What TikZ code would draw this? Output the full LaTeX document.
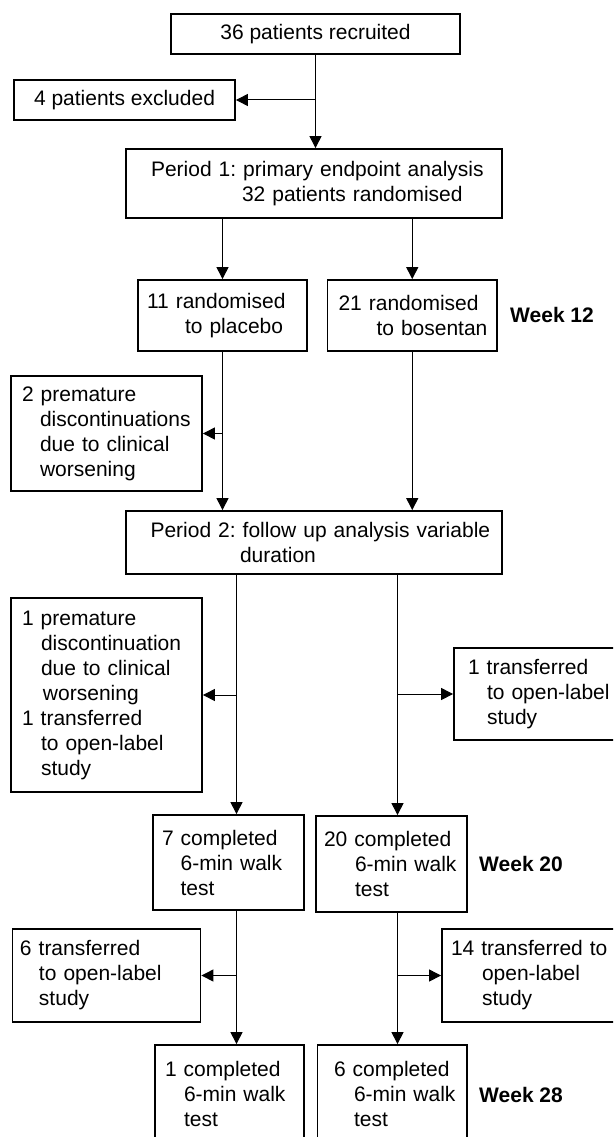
\documentclass[tikz,border=0pt]{standalone}
\usepackage{fontspec}
\setmainfont{Liberation Sans}
\usetikzlibrary{arrows.meta}
\frenchspacing
\newcommand\fsz{\fontsize{21pt}{25pt}\selectfont\frenchspacing}
\newcommand\ind[1]{\hspace*{#1pt}}
\tikzset{
  box/.style={draw, line width=1.8pt, inner sep=0pt, font=\fsz},
  cbox/.style={box, align=center},
  lbox/.style={box, align=left},
  arr/.style={line width=1pt, -{Triangle[length=12pt,width=12pt]}},
  wk/.style={font=\fsz\bfseries, anchor=west, inner sep=0pt}
}
\begin{document}
\begin{tikzpicture}[x=1pt,y=-1pt]
\useasboundingbox (0,0) rectangle (613,1137);
\clip (0,0) rectangle (613,1137);

\node[cbox, minimum width=289pt, minimum height=40pt] (A) at (315.5,34) {36 patients recruited};
\node[cbox, minimum width=221pt, minimum height=40pt] (B) at (124.5,100) {4 patients excluded};
\node[lbox, text width=376pt, minimum height=69pt] (C) at (314,183.5)
  {\ind{25}Period 1: primary endpoint analysis\\\ind{116}32 patients randomised};
\node[lbox, text width=169pt, minimum height=71pt] (D) at (222.5,315.5)
  {\ind{9}11 randomised\\\ind{47}to placebo};
\node[lbox, text width=169.5pt, minimum height=71pt] (E) at (412.25,315.5)
  {\ind{11}21 randomised\\\ind{49}to bosentan};
\node[wk] (W12) at (510,315) {Week 12};
\node[lbox, text width=191pt, minimum height=115pt] (F) at (106.5,433.5)
  {\ind{11}2 premature\\\ind{29}discontinuations\\\ind{29}due to clinical\\\ind{29}worsening};
\node[lbox, text width=376pt, minimum height=63pt] (G) at (314,542.5)
  {\ind{24.5}Period 2: follow up analysis variable\\\ind{114}duration};
\node[lbox, text width=191pt, minimum height=194pt] (H) at (106.5,695)
  {\ind{11}1 premature\\\ind{30}discontinuation\\\ind{30}due to clinical\\\ind{32}worsening\\\ind{11}1 transferred\\\ind{30}to open-label\\\ind{30}study};
\node[lbox, text width=161pt, minimum height=92pt] (I) at (534.5,694)
  {\ind{14}1 transferred\\\ind{33}to open-label\\\ind{33}study};
\node[lbox, text width=151pt, minimum height=95pt] (J) at (228.5,862.5)
  {\ind{9}7 completed\\\ind{27.6}6-min walk\\\ind{27.6}test};
\node[lbox, text width=151pt, minimum height=96pt] (K) at (391.5,864)
  {\ind{8}20 completed\\\ind{39}6-min walk\\\ind{39}test};
\node[wk] (W20) at (479,864) {Week 20};
\node[lbox, text width=188pt, minimum height=93pt] (L) at (106.5,975.5)
  {\ind{7.5}6 transferred\\\ind{26.5}to open-label\\\ind{26.5}study};
\node[lbox, text width=173pt, minimum height=93pt] (M) at (528.5,975.5)
  {\ind{9}14 transferred to\\\ind{40}open-label\\\ind{40}study};
\node[lbox, text width=149pt, minimum height=98pt] (N) at (229.5,1094)
  {\ind{10}1 completed\\\ind{29}6-min walk\\\ind{29}test};
\node[lbox, text width=149.5pt, minimum height=98pt] (O) at (392.25,1094)
  {\ind{16.5}6 completed\\\ind{36.5}6-min walk\\\ind{36.5}test};
\node[wk] (W28) at (479,1095) {Week 28};

\coordinate (cl) at (236.5,0);
\coordinate (cr) at (397.5,0);

\draw[arr] (A.south) -- (A.south |- C.north);
\draw[arr] (A.south |- B.east) -- (B.east);
\draw[arr] (D.north |- C.south) -- (D.north);
\draw[arr] (E.north |- C.south) -- (E.north);
\draw[arr] (D.south) -- (D.south |- G.north);
\draw[arr] (D.south |- F.east) -- (F.east);
\draw[arr] (E.south) -- (E.south |- G.north);
\draw[arr] (cl |- G.south) -- (cl |- J.north);
\draw[arr] (cl |- H.east) -- (H.east);
\draw[arr] (cr |- G.south) -- (cr |- K.north);
\draw[arr] (cr |- I.west) -- (I.west);
\draw[arr] (cl |- J.south) -- (cl |- N.north);
\draw[arr] (cl |- L.east) -- (L.east);
\draw[arr] (cr |- K.south) -- (cr |- O.north);
\draw[arr] (cr |- M.west) -- (M.west);
\end{tikzpicture}
\end{document}
